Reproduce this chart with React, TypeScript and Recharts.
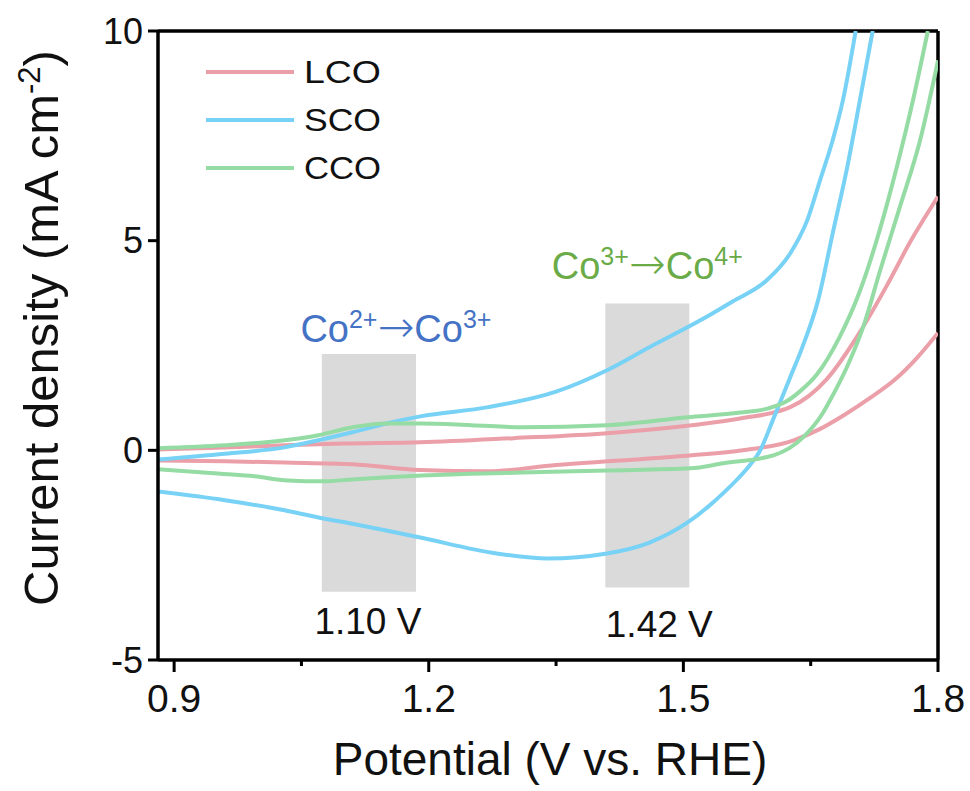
import {
  LineChart,
  Line,
  XAxis,
  YAxis,
  ReferenceArea,
  ReferenceLine,
  Customized,
} from "recharts";

// potentials (V vs. RHE) and current densities (mA cm-2), one pair per scan branch
const lcoFwdV = [0.88, 0.95, 1.03, 1.1, 1.19, 1.3, 1.41, 1.51, 1.567, 1.626, 1.669, 1.708, 1.74, 1.767, 1.8];
const lcoFwdJ = [0.02, 0.06, 0.12, 0.16, 0.19, 0.29, 0.41, 0.6, 0.76, 1.03, 1.7, 2.82, 3.94, 4.96, 6.05];
const lcoRevV = [0.88, 0.96, 1.03, 1.11, 1.19, 1.27, 1.35, 1.42, 1.51, 1.57, 1.63, 1.66, 1.69, 1.72, 1.75, 1.775, 1.8];
const lcoRevJ = [-0.24, -0.26, -0.29, -0.33, -0.47, -0.5, -0.35, -0.25, -0.12, 0, 0.24, 0.5, 0.85, 1.25, 1.7, 2.2, 2.8];

const scoFwdV = [0.88, 0.96, 1.03, 1.07, 1.11, 1.15, 1.19, 1.27, 1.35, 1.41, 1.46, 1.52, 1.558, 1.598, 1.626, 1.646, 1.661, 1.676, 1.688, 1.703];
const scoFwdJ = [-0.22, -0.08, 0.07, 0.24, 0.43, 0.64, 0.81, 1.03, 1.4, 1.91, 2.46, 3.1, 3.55, 4.05, 4.7, 5.49, 6.44, 7.4, 8.35, 10];
const scoRevV = [0.88, 0.96, 1.03, 1.07, 1.11, 1.15, 1.19, 1.28, 1.34, 1.41, 1.46, 1.505, 1.53, 1.547, 1.565, 1.578, 1.59, 1.606, 1.626, 1.64, 1.659, 1.676, 1.693, 1.708, 1.723];
const scoRevJ = [-0.98, -1.19, -1.43, -1.6, -1.75, -1.91, -2.08, -2.46, -2.58, -2.46, -2.2, -1.72, -1.33, -1.02, -0.66, -0.36, -0.02, 0.75, 1.75, 2.45, 3.6, 5.18, 6.75, 8.35, 10];

const ccoFwdV = [0.88, 0.96, 1.03, 1.07, 1.11, 1.15, 1.19, 1.25, 1.31, 1.41, 1.505, 1.567, 1.6, 1.62, 1.637, 1.657, 1.684, 1.708, 1.732, 1.752, 1.77, 1.788];
const ccoFwdJ = [0.05, 0.12, 0.24, 0.36, 0.55, 0.64, 0.64, 0.6, 0.55, 0.6, 0.79, 0.9, 1.0, 1.15, 1.4, 1.8, 2.7, 3.8, 5.3, 6.8, 8.3, 10];
const ccoRevV = [0.88, 0.955, 0.995, 1.034, 1.074, 1.113, 1.152, 1.192, 1.25, 1.31, 1.41, 1.508, 1.547, 1.606, 1.641, 1.664, 1.673, 1.693, 1.712, 1.732, 1.755, 1.779, 1.8];
const ccoRevJ = [-0.45, -0.56, -0.62, -0.72, -0.74, -0.69, -0.64, -0.6, -0.56, -0.53, -0.48, -0.43, -0.31, -0.12, 0.31, 0.88, 1.2, 2.0, 2.95, 4.3, 5.8, 7.4, 9.3];

const samples = ["LCO", "SCO", "CCO"];
const colors = ["#eb9fa9", "#78d2f5", "#94dba4"];

const xTicks = [0.9, 1.05, 1.2, 1.35, 1.5, 1.65, 1.8];
const xMajor = [0.9, 1.2, 1.5, 1.8];
const yTicks = [-5, 0, 5, 10];

// shaded redox regions
const bandFrom = [1.074, 1.408];
const bandTo = [1.185, 1.507];
const bandLow = [-3.37, -3.27];
const bandHigh = [2.3, 3.5];
const bandPotential = ["1.10 V", "1.42 V"];
const bandTransition = [
  ["2+", "3+"],
  ["3+", "4+"],
];
const transitionColor = ["#4472c4", "#6aab48"];

const toPoints = (v: number[], j: number[]) => v.map((x, i) => ({ v: x, j: j[i] }));

const branches = [
  { key: "lco-f", s: 0, data: toPoints(lcoFwdV, lcoFwdJ) },
  { key: "lco-r", s: 0, data: toPoints(lcoRevV, lcoRevJ) },
  { key: "sco-f", s: 1, data: toPoints(scoFwdV, scoFwdJ) },
  { key: "sco-r", s: 1, data: toPoints(scoRevV, scoRevJ) },
  { key: "cco-f", s: 2, data: toPoints(ccoFwdV, ccoFwdJ) },
  { key: "cco-r", s: 2, data: toPoints(ccoRevV, ccoRevJ) },
];

const font = "'Liberation Sans', Arial, sans-serif";

const XTick = (props: any) => {
  const { x, y, payload } = props;
  const major = xMajor.includes(payload.value);
  return (
    <g>
      <line x1={x} x2={x} y1={y} y2={y + (major ? 12 : 6)} stroke="#000" strokeWidth={3} />
      {major && (
        <text x={x} y={y + 52} textAnchor="middle" fontSize={39} fontFamily={font} fill="#111">
          {payload.value.toFixed(1)}
        </text>
      )}
    </g>
  );
};

const bandLabel = (i: number) => (props: any) => {
  const { x, y, width, height } = props.viewBox;
  const cx = x + width / 2;
  const tx = i === 0 ? cx + 27 : cx;
  const ty = i === 0 ? y - 12 : y - 25;
  const px = i === 0 ? cx - 1 : cx + 12;
  const py = i === 0 ? y + height + 42 : y + height + 50;
  const [a, b] = bandTransition[i];
  return (
    <g fontFamily={font}>
      <text x={tx} y={ty} textAnchor="middle" fontSize={38} fill={transitionColor[i]}>
        Co<tspan fontSize={25} dy={-14}>{a}</tspan>
        <tspan dy={14} fontFamily="'DejaVu Sans'" fontWeight={200} fontSize={44}>→</tspan>
        <tspan>Co</tspan>
        <tspan fontSize={25} dy={-14}>{b}</tspan>
      </text>
      <text x={px} y={py} textAnchor="middle" fontSize={37} fill="#111">
        {bandPotential[i]}
      </text>
    </g>
  );
};

const Decor = () => (
  <g fontFamily={font} fill="#111">
    {samples.map((name, i) => (
      <g key={name}>
        <line x1={206} x2={294} y1={72 + i * 48} y2={72 + i * 48} stroke={colors[i]} strokeWidth={4} />
        <text x={304} y={83 + i * 48} fontSize={31} textLength={77} lengthAdjust="spacingAndGlyphs">
          {name}
        </text>
      </g>
    ))}
    <text transform="translate(58,328) rotate(-90)" textAnchor="middle" fontSize={49}>
      Current density (mA cm<tspan fontSize={31} dy={-18}>-2</tspan>
      <tspan dy={18}>)</tspan>
    </text>
    <text x={550} y={775} textAnchor="middle" fontSize={46}>
      Potential (V vs. RHE)
    </text>
  </g>
);

export default function App() {
  return (
    <div style={{ width: 970, height: 791, background: "#fff" }}>
      <style>{`body{margin:0}`}</style>
      <LineChart width={970} height={791} margin={{ top: 31, right: 32, left: 0, bottom: 0 }}>
        <XAxis
          type="number"
          dataKey="v"
          domain={[0.881, 1.8]}
          ticks={xTicks}
          allowDataOverflow
          height={131}
          tickSize={0}
          tickMargin={0}
          tickLine={false}
          tick={<XTick />}
          axisLine={{ stroke: "#000", strokeWidth: 3.5 }}
        />
        <YAxis
          type="number"
          domain={[-5, 10]}
          ticks={yTicks}
          allowDataOverflow
          width={158}
          tickSize={10}
          tickMargin={5}
          tickLine={{ stroke: "#000", strokeWidth: 3 }}
          axisLine={{ stroke: "#000", strokeWidth: 3.5 }}
          tick={{ fontSize: 36, fill: "#111", fontFamily: font }}
        />
        <ReferenceLine y={10} stroke="#000" strokeWidth={3.5} />
        <ReferenceLine x={1.8} stroke="#000" strokeWidth={3.5} />
        {branches.map((b) => (
          <Line
            key={b.key}
            data={b.data}
            dataKey="j"
            type="monotone"
            stroke={colors[b.s]}
            strokeWidth={4}
            dot={false}
            activeDot={false}
            isAnimationActive={false}
          />
        ))}
        {bandFrom.map((x1, i) => (
          <ReferenceArea
            key={i}
            x1={x1}
            x2={bandTo[i]}
            y1={bandLow[i]}
            y2={bandHigh[i]}
            fill="#bcbcbc"
            fillOpacity={0.55}
            stroke="none"
            label={bandLabel(i)}
          />
        ))}
        <Customized component={Decor} />
      </LineChart>
    </div>
  );
}
